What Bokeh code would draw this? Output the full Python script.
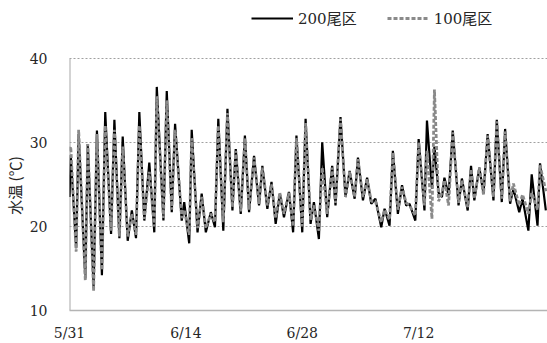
from bokeh.plotting import figure
from bokeh.models import Range1d, FixedTicker, Legend, LegendItem
from bokeh.embed import file_html
from bokeh.resources import INLINE

# days since 5/31
t_days = [0.0, 0.15, 0.8, 1.1, 1.9, 2.2, 2.9, 3.3, 3.9, 4.3, 5.0, 5.4, 6.0, 6.4, 7.0, 7.5, 8.0, 8.4,
          9.0, 9.6, 10.2, 10.5, 11.3, 11.7, 12.3, 12.7, 13.5, 13.8, 14.4, 14.7, 15.4, 15.9, 16.4, 17.0,
          17.5, 17.9, 18.5, 19.0, 19.6, 20.0, 20.6, 21.1, 21.6, 22.2, 22.8, 23.2, 23.8, 24.3, 24.8, 25.3,
          25.8, 26.4, 26.9, 27.3, 28.0, 28.4, 29.0, 29.4, 30.0, 30.4, 31.0, 31.6, 32.0, 32.6, 33.2, 33.7,
          34.3, 34.7, 35.3, 35.8, 36.3, 36.8, 37.5, 37.9, 38.5, 38.9, 39.5, 40.0, 40.5, 40.9, 41.6, 42.0,
          42.7, 43.0, 43.6, 43.9, 44.4, 44.8, 45.1, 45.6, 46.1, 46.8, 47.2, 47.9, 48.3, 48.7, 49.3, 49.8,
          50.3, 51.0, 51.4, 52.0, 52.4, 53.0, 53.4, 54.1, 54.5, 55.2, 55.6, 56.3, 56.6, 57.3]

temp_200 = [23.5, 28.5, 17.4, 31.0, 13.8, 29.8, 12.7, 31.4, 14.2, 33.6, 19.1, 32.7, 18.6, 30.7, 18.3, 21.9, 18.6, 33.6,
            20.7, 27.6, 19.3, 36.6, 20.7, 36.1, 21.7, 32.2, 20.7, 22.9, 18.0, 31.5, 19.3, 23.9, 19.3, 21.7,
            19.9, 32.8, 19.5, 34.0, 21.9, 29.2, 21.5, 30.8, 21.7, 28.4, 22.5, 27.2, 22.1, 25.3, 20.3, 23.9,
            21.1, 24.1, 19.3, 30.8, 19.3, 32.8, 20.3, 22.9, 18.5, 30.0, 21.1, 27.2, 22.5, 33.0, 23.5, 26.6,
            23.3, 28.2, 23.1, 25.8, 22.7, 23.3, 19.9, 22.1, 20.1, 29.0, 21.5, 24.9, 22.5, 22.7, 20.7, 30.4,
            21.9, 32.6, 24.5, 29.5, 24.0, 23.5, 25.8, 23.7, 31.4, 22.5, 25.7, 21.9, 27.2, 23.1, 27.0, 23.9,
            31.0, 23.1, 32.7, 22.9, 31.6, 22.7, 24.5, 21.7, 23.3, 19.5, 26.2, 20.1, 27.5, 21.9]

temp_100 = [29.0, 29.5, 17.0, 31.5, 13.6, 29.8, 12.3, 31.0, 14.8, 32.0, 19.5, 31.5, 18.8, 29.5, 18.8, 21.5, 19.0, 32.0,
            20.9, 26.5, 20.0, 35.5, 21.0, 35.0, 22.0, 31.5, 21.0, 22.0, 19.0, 30.5, 19.8, 23.5, 19.8, 21.5,
            20.5, 32.0, 20.5, 33.5, 22.3, 29.0, 21.8, 30.5, 22.0, 28.2, 22.7, 27.0, 22.5, 25.0, 21.0, 24.0,
            21.5, 24.0, 20.0, 30.5, 20.0, 32.3, 20.8, 22.5, 19.5, 27.0, 21.5, 27.0, 22.8, 32.8, 23.5, 26.5,
            23.5, 28.0, 23.5, 25.6, 23.0, 23.0, 20.5, 22.0, 20.8, 28.8, 22.0, 24.7, 22.8, 22.5, 21.3, 30.0,
            22.5, 29.0, 20.9, 36.3, 23.0, 24.0, 25.5, 22.5, 31.2, 22.8, 25.5, 22.3, 26.8, 23.3, 27.0, 23.8,
            30.8, 23.5, 32.5, 23.3, 31.3, 23.0, 25.1, 22.5, 23.8, 21.5, 24.0, 22.0, 27.3, 24.2]

series_names = ["200尾区", "100尾区"]
tick_days = [0, 14, 28, 42]
tick_labels = ["5/31", "6/14", "6/28", "7/12"]
y_ticks = [10, 20, 30, 40]
y_label = "水温 (℃)"

SERIF = "'DejaVu Serif', 'Noto Sans CJK JP'"

# frame runs to the top of the canvas so the legend (drawn inside the frame) is not clipped;
# the data range 10..40 still maps to the same pixels as the reference
p = figure(width=547, height=343, output_backend="svg", toolbar_location=None,
           x_range=Range1d(0, 57.5), y_range=Range1d(10, 46.88),
           min_border_left=69, min_border_right=0, min_border_top=0, min_border_bottom=32)
p.outline_line_color = None
p.background_fill_color = "white"
p.border_fill_color = "white"

# left axis line only over the 10..40 span
p.segment(x0=[0], y0=[y_ticks[0]], x1=[0], y1=[y_ticks[-1]], line_color="#a8a8a8", line_width=2)

r1 = p.line(t_days, temp_200, line_color="#000000", line_width=2.2)
r2 = p.line(t_days, temp_100, line_color="#8a8a8a", line_width=2.8, line_dash="4 2")

p.xgrid.grid_line_color = None
p.ygrid.ticker = FixedTicker(ticks=[20, 30, 40])
p.ygrid.grid_line_color = "#a0a0a0"
p.ygrid.grid_line_dash = "2 2"
p.ygrid.grid_line_width = 1

p.xaxis.ticker = FixedTicker(ticks=tick_days)
p.xaxis.major_label_overrides = {d: l for d, l in zip(tick_days, tick_labels)}
p.yaxis.ticker = FixedTicker(ticks=y_ticks)
for ax in (p.xaxis[0], p.yaxis[0]):
    ax.major_tick_line_color = None
    ax.minor_tick_line_color = None
    ax.major_label_text_font = SERIF
    ax.major_label_text_font_size = "14px"
    ax.major_label_text_color = "#262626"
p.xaxis.axis_line_color = "#b4b4b4"
p.xaxis.axis_line_width = 1.5
p.xaxis.major_label_standoff = 8
p.yaxis.axis_line_color = None
p.yaxis.major_label_standoff = 16
# trailing ideographic spaces shift the visible label down to the middle of the 10..40 span
p.yaxis.axis_label = y_label + "\u3000\u3000\u3000\u3000"
p.yaxis.axis_label_standoff = 2
p.yaxis.axis_label_text_font = "Noto Sans CJK JP"
p.yaxis.axis_label_text_font_size = "15px"
p.yaxis.axis_label_text_font_style = "normal"
p.yaxis.axis_label_text_color = "#262626"

legend = Legend(items=[LegendItem(label=series_names[0], renderers=[r1]),
                       LegendItem(label=series_names[1], renderers=[r2])],
                orientation="horizontal", location=(182, 282), padding=0, margin=0, spacing=30,
                glyph_width=42, glyph_height=20, label_height=20, label_standoff=5,
                label_text_font=SERIF, label_text_font_size="15px", label_text_color="#262626",
                background_fill_alpha=0, border_line_color=None)
p.add_layout(legend, "center")

open("out.html", "w").write(file_html(p, INLINE))
